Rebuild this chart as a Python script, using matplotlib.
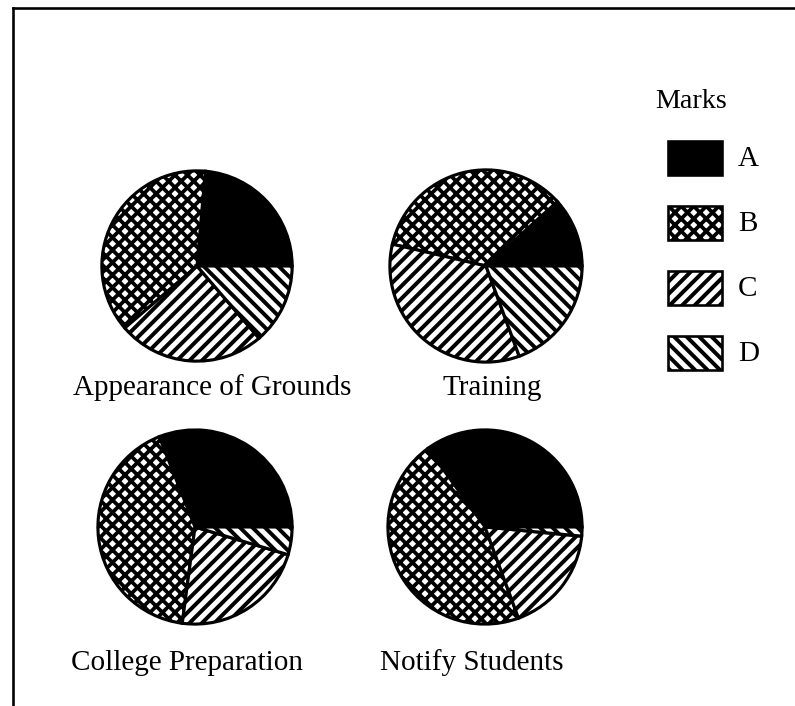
import matplotlib
matplotlib.use("Agg")
import matplotlib.pyplot as plt
from matplotlib.patches import Rectangle
from matplotlib.lines import Line2D

plt.rcParams["font.family"] = ["Liberation Serif", "DejaVu Serif"]

# data (percent per mark)
marks = ["A", "B", "C", "D"]
titles = ["Appearance of Grounds", "Training", "College Preparation", "Notify Students"]
grounds = [23.6, 37.7, 25.0, 13.7]
training = [11.7, 34.7, 34.3, 19.4]
college = [31.0, 41.9, 22.5, 4.6]
notify = [35.0, 45.6, 17.9, 1.5]
values = [grounds, training, college, notify]

# styles
faces = ["black", "white", "white", "white"]
hatches = [None, "xx", "//", "\\\\"]
hatch_lw = [1, 3.6, 3.8, 3.8]

W, H, DPI = 795, 707, 75
fig = plt.figure(figsize=(W / DPI, H / DPI), dpi=DPI, facecolor="white")

def px(x, y):
    return x / W, 1 - y / H

def style(patch, i):
    patch.set_facecolor(faces[i])
    patch.set_edgecolor("black")
    if hatches[i]:
        patch.set_hatch(hatches[i])
        if hasattr(patch, "set_hatch_linewidth"):
            patch.set_hatch_linewidth(hatch_lw[i])

# pie positions: centre (px), radius (px), label centre x, label baseline y
pos = [(197, 267, 98, 212, 395),
       (486, 267, 99, 492, 395),
       (195, 528, 100, 187, 670),
       (485, 528, 100, 472, 670)]

for vals, title, (cx, cy, r, tx, ty) in zip(values, titles, pos):
    ax = fig.add_axes([(cx - r) / W, 1 - (cy + r) / H, 2 * r / W, 2 * r / H])
    wedges, _ = ax.pie(vals, startangle=0, radius=1,
                       wedgeprops=dict(linewidth=3))
    for i, w in enumerate(wedges):
        style(w, i)
    ax.set_xlim(-1.03, 1.03)
    ax.set_ylim(-1.03, 1.03)
    ax.set_aspect("auto")
    ax.axis("off")
    x, y = px(tx, ty)
    fig.text(x, y, title, ha="center", va="baseline", fontsize=28)

# legend
x, y = px(655, 108)
fig.text(x, y, "Marks", ha="left", va="baseline", fontsize=27)
legend_y = [142, 207, 272, 337]
for i, (m, top) in enumerate(zip(marks, legend_y)):
    x0, y0 = px(668, top + 34)
    rect = Rectangle((x0, y0), 54 / W, 34 / H, transform=fig.transFigure,
                     linewidth=2.5)
    style(rect, i)
    fig.add_artist(rect)
    x, y = px(738, top + 17)
    fig.text(x, y, m, ha="left", va="center", fontsize=28)

# frame lines
fig.add_artist(Line2D([13 / W, 1], [1 - 9 / H, 1 - 9 / H], color="black",
                      linewidth=2.5, transform=fig.transFigure))
fig.add_artist(Line2D([13 / W, 13 / W], [0, 1 - 9 / H], color="black",
                      linewidth=2.5, transform=fig.transFigure))

fig.savefig("out.png", dpi=DPI, facecolor="white")
